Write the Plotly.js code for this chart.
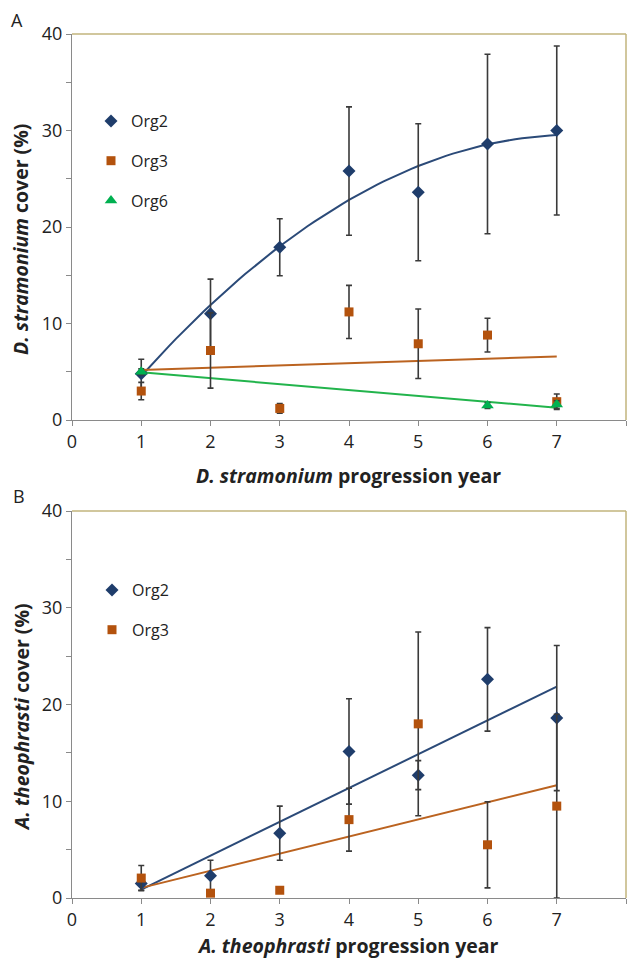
<!DOCTYPE html>
<html><head><meta charset="utf-8">
<script src="https://cdn.plot.ly/plotly-3.0.1.min.js"></script>
<style>body{margin:0;background:#fff}#chart{width:631px;height:961px}</style>
</head><body><div id="chart"></div>
<script>
// ---- data ----
const years = [1, 2, 3, 4, 5, 6, 7];
const xTickVals = [0, 1, 2, 3, 4, 5, 6, 7, 8];
const yTickVals = [0, 5, 10, 15, 20, 25, 30, 35, 40];
const yTickText = ['0', '', '10', '', '20', '', '30', '', '40'];

// Panel A: D. stramonium cover (%)
const aOrg2 = [4.8, 11.0, 17.9, 25.8, 23.6, 28.6, 30.0];
const aOrg2Err = [1.5, 3.6, 2.95, 6.65, 7.1, 9.3, 8.75];
const aOrg3 = [3.0, 7.2, 1.2, 11.2, 7.9, 8.8, 1.9];
const aOrg3Err = [0.9, 3.9, 0.5, 2.75, 3.6, 1.75, 0.8];
const aOrg6Years = [1, 6, 7];
const aOrg6 = [5.0, 1.5, 1.6];
const aOrg6Err = [0.3, 0.3, 0.4];

// Panel B: A. theophrasti cover (%)
const bOrg2 = [1.5, 2.3, 6.7, 15.15, 12.7, 22.6, 18.6];
const bOrg2Err = [0.7, 1.6, 2.8, 5.45, 1.5, 5.35, 7.5];
const bOrg3 = [2.06, 0.5, 0.8, 8.1, 18.0, 5.5, 9.5];
const bOrg3Err = [1.3, 0, 0, 3.25, 9.5, 4.45, 9.5];

// ---- styles ----
const C2 = '#1f3d6b', C3 = '#b3520d', C6 = '#00b050';
const L2 = '#2b4a78', L3 = '#bb6320', L6 = '#22b44c';
const FONT = '"Open Sans", Lato, sans-serif';
const TXT = '#222222';
const FS = 18;      // tick labels
const FT = 19.5;    // axis titles
const W = 631, H = 961;

// least-squares polynomial fit (Excel-style trendline)
function polyfit(xs, ys, deg) {
  const n = deg + 1;
  const A = Array.from({length: n}, () => new Array(n + 1).fill(0));
  for (let i = 0; i < xs.length; i++) {
    for (let r = 0; r < n; r++) {
      for (let c = 0; c < n; c++) A[r][c] += Math.pow(xs[i], r + c);
      A[r][n] += ys[i] * Math.pow(xs[i], r);
    }
  }
  for (let i = 0; i < n; i++) {
    let p = i;
    for (let k = i + 1; k < n; k++) if (Math.abs(A[k][i]) > Math.abs(A[p][i])) p = k;
    [A[i], A[p]] = [A[p], A[i]];
    for (let k = 0; k < n; k++) {
      if (k === i) continue;
      const f = A[k][i] / A[i][i];
      for (let c = i; c <= n; c++) A[k][c] -= f * A[i][c];
    }
  }
  return A.map((row, i) => row[n] / row[i]);
}
function trend(xs, ys, deg) {
  const co = polyfit(xs, ys, deg);
  const x0 = Math.min(...xs), x1 = Math.max(...xs);
  const tx = [], ty = [];
  const steps = 60;
  for (let i = 0; i <= steps; i++) {
    const x = x0 + (x1 - x0) * i / steps;
    tx.push(x);
    ty.push(co.reduce((s, c, k) => s + c * Math.pow(x, k), 0));
  }
  return {tx, ty};
}

function lineTrace(xs, ys, deg, color, xa, ya) {
  const t = trend(xs, ys, deg);
  return {x: t.tx, y: t.ty, type: 'scatter', mode: 'lines', xaxis: xa, yaxis: ya,
    line: {color: color, width: 2}, showlegend: false, hoverinfo: 'skip'};
}
function ptsTrace(name, xs, ys, err, color, symbol, size, xa, ya, legend) {
  return {x: xs, y: ys, name: name, type: 'scatter', mode: 'markers', xaxis: xa, yaxis: ya,
    legend: legend, legendgroup: legend + name,
    marker: {color: color, symbol: symbol, size: size},
    error_y: {type: 'data', array: err, visible: true, color: '#3a3a3a', thickness: 1.6, width: 3}};
}

const traces = [
  lineTrace(years, aOrg2, 2, L2, 'x', 'y'),
  lineTrace(years, aOrg3, 1, L3, 'x', 'y'),
  lineTrace(aOrg6Years, aOrg6, 1, L6, 'x', 'y'),
  ptsTrace('Org2', years, aOrg2, aOrg2Err, C2, 'diamond', 10, 'x', 'y', 'legend'),
  ptsTrace('Org3', years, aOrg3, aOrg3Err, C3, 'square', 9, 'x', 'y', 'legend'),
  ptsTrace('Org6', aOrg6Years, aOrg6, aOrg6Err, C6, 'triangle-up', 11, 'x', 'y', 'legend'),
  lineTrace(years, bOrg2, 1, L2, 'x2', 'y2'),
  lineTrace(years, bOrg3, 1, L3, 'x2', 'y2'),
  ptsTrace('Org2', years, bOrg2, bOrg2Err, C2, 'diamond', 10, 'x2', 'y2', 'legend2'),
  ptsTrace('Org3', years, bOrg3, bOrg3Err, C3, 'square', 9, 'x2', 'y2', 'legend2')
];

const px = v => v / W;          // horizontal pixel -> paper
const py = v => 1 - v / H;      // vertical pixel (from top) -> paper
const xDom = [px(72), px(626)];

function xAxis(anchor) {
  return {domain: xDom, anchor: anchor, range: [0, 8], tickvals: xTickVals,
    showline: true, linecolor: '#8a8a8a', linewidth: 1, ticks: 'outside', ticklen: 5,
    tickcolor: '#8a8a8a', showgrid: false, zeroline: false, automargin: false,
    tickfont: {family: FONT, size: FS, color: TXT}, fixedrange: true};
}
function yAxis(anchor, top, bottom) {
  return {domain: [py(bottom), py(top)], anchor: anchor, range: [0, 40],
    tickvals: yTickVals, ticktext: yTickText,
    showline: true, linecolor: '#8a8a8a', linewidth: 1, ticks: 'outside', ticklen: 5,
    tickcolor: '#8a8a8a', showgrid: false, zeroline: false, automargin: false,
    tickfont: {family: FONT, size: FS, color: TXT}, fixedrange: true};
}
function legendAt(xp, yp) {
  return {x: px(xp), y: py(yp), xanchor: 'left', yanchor: 'top', bgcolor: 'rgba(0,0,0,0)',
    traceorder: 'grouped', tracegroupgap: 16, itemwidth: 30,
    font: {family: FONT, size: 16, color: TXT}};
}
function border(xa, ya) {
  const s = {type: 'line', xref: xa + ' domain', yref: ya + ' domain',
    line: {color: '#c2b57c', width: 1.5}, layer: 'below'};
  return [Object.assign({x0: 0, x1: 1, y0: 1, y1: 1}, s),
          Object.assign({x0: 1, x1: 1, y0: 0, y1: 1}, s)];
}
function ann(text, xp, yp, opts) {
  return Object.assign({text: text, x: px(xp), y: py(yp), xref: 'paper', yref: 'paper',
    showarrow: false, xanchor: 'center', yanchor: 'middle',
    font: {family: FONT, size: FT, color: TXT}}, opts || {});
}

const layout = {
  width: W, height: H, margin: {l: 0, r: 0, t: 0, b: 0},
  paper_bgcolor: '#ffffff', plot_bgcolor: '#ffffff',
  xaxis: xAxis('y'), yaxis: yAxis('x', 34, 420),
  xaxis2: xAxis('y2'), yaxis2: yAxis('x2', 511, 898),
  legend: legendAt(91, 104),
  legend2: legendAt(92, 573),
  shapes: border('x', 'y').concat(border('x2', 'y2')),
  annotations: [
    ann('A', 17, 20, {font: {family: FONT, size: 18, color: TXT}}),
    ann('B', 19, 496, {font: {family: FONT, size: 18, color: TXT}}),
    ann('<b><i>D. stramonium</i> progression year</b>', 348, 475),
    ann('<b><i>D. stramonium</i> cover (%)</b>', 21, 240, {textangle: -90}),
    ann('<b><i>A. theophrasti</i> progression year</b>', 348, 945),
    ann('<b><i>A. theophrasti</i> cover (%)</b>', 21, 717, {textangle: -90})
  ],
  showlegend: true
};

Plotly.newPlot('chart', traces, layout, {staticPlot: true, displayModeBar: false});
</script></body></html>
